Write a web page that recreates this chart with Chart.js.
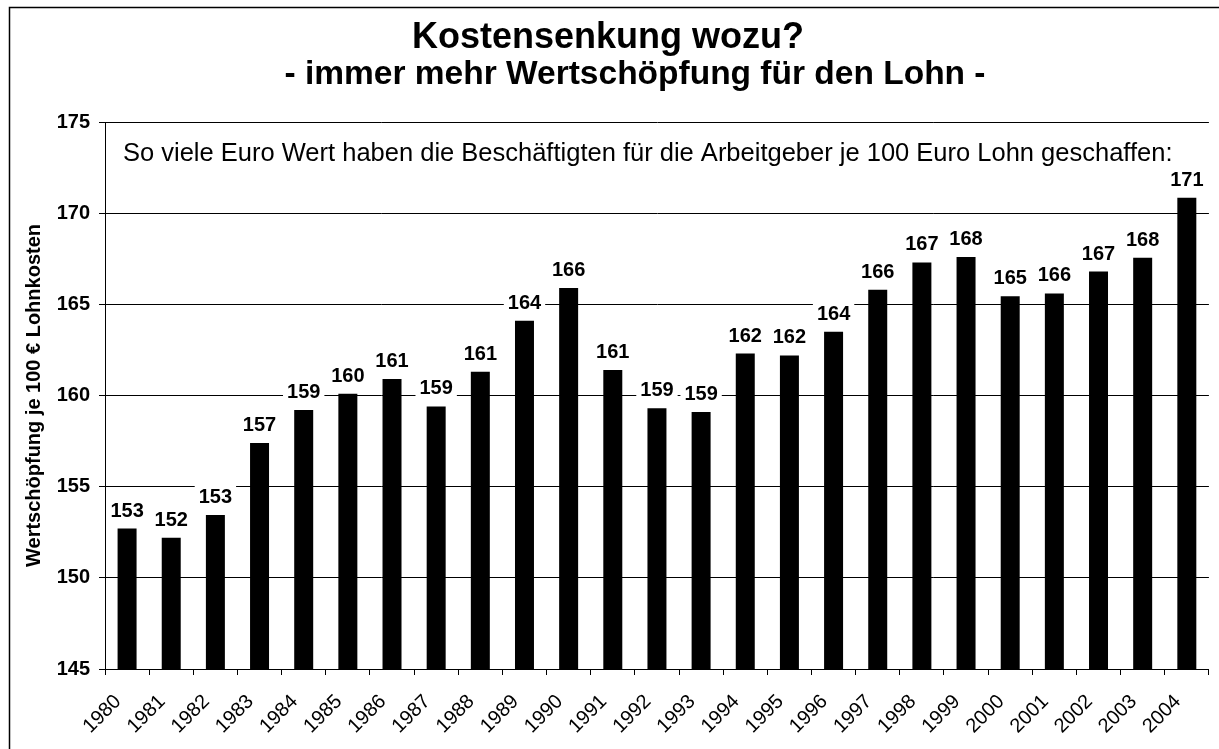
<!DOCTYPE html>
<html>
<head>
<meta charset="utf-8">
<title>Kostensenkung wozu?</title>
<script src="https://cdn.jsdelivr.net/npm/chart.js@4.4.0/dist/chart.umd.min.js"></script>
<style>
  body { margin: 0; background: #fff; }
  canvas { display: block; }
</style>
</head>
<body>
<canvas id="chart" width="1219" height="749"></canvas>
<script>
// Daten
const years = ["1980", "1981", "1982", "1983", "1984", "1985", "1986", "1987", "1988", "1989",
  "1990", "1991", "1992", "1993", "1994", "1995", "1996", "1997", "1998", "1999",
  "2000", "2001", "2002", "2003", "2004"]
const values = [152.7, 152.2, 153.45, 157.4, 159.2, 160.1, 160.9, 159.4, 161.3, 164.1,
  165.9, 161.4, 159.3, 159.1, 162.3, 162.2, 163.5, 165.8, 167.3, 167.6,
  165.45, 165.6, 166.8, 167.55, 170.85]
const yTicks = [145, 150, 155, 160, 165, 170, 175]

const titleText = "Kostensenkung wozu?"
const subtitleText = "- immer mehr Wertschöpfung für den Lohn -"
const noteText = "So viele Euro Wert haben die Beschäftigten für die Arbeitgeber je 100 Euro Lohn geschaffen:"
const yTitle = "Wertschöpfung je 100 € Lohnkosten"

const FONT = 'Arial, "Liberation Sans", Helvetica, sans-serif'

// Titel, Rahmen und Hinweistext
const decorations = {
  id: "decorations",
  afterDraw(chart) {
    const ctx = chart.ctx
    const area = chart.chartArea
    ctx.save()
    ctx.strokeStyle = "#000"
    ctx.lineWidth = 1.5
    ctx.strokeRect(9.5, 7.5, 1240, 760)

    ctx.fillStyle = "#000"
    ctx.textAlign = "center"
    ctx.textBaseline = "alphabetic"
    ctx.font = "bold 36px " + FONT
    ctx.fillText(titleText, 608, 48)
    ctx.font = "bold 33.5px " + FONT
    ctx.fillText(subtitleText, 635, 84)

    ctx.textAlign = "left"
    ctx.font = "25.5px " + FONT
    ctx.fillText(noteText, area.left + 18, 161)
    ctx.restore()
  },
}

// Werte über den Balken, mit weißem Hintergrund
const barLabels = {
  id: "barLabels",
  afterDatasetsDraw(chart) {
    const ctx = chart.ctx
    const meta = chart.getDatasetMeta(0)
    ctx.save()
    ctx.font = "bold 20px " + FONT
    ctx.textAlign = "center"
    ctx.textBaseline = "alphabetic"
    meta.data.forEach((bar, i) => {
      const txt = String(Math.round(values[i]))
      const w = ctx.measureText(txt).width
      const base = bar.y - 12
      ctx.fillStyle = "#fff"
      ctx.fillRect(bar.x - w / 2 - 4, base - 18, w + 8, 22)
      ctx.fillStyle = "#000"
      ctx.fillText(txt, bar.x, base)
    })
    ctx.restore()
  },
}

const ctx = document.getElementById("chart").getContext("2d")
new Chart(ctx, {
  type: "bar",
  data: {
    labels: years,
    datasets: [
      {
        label: "Wertschöpfung",
        data: values,
        backgroundColor: "#000",
        borderWidth: 0,
        barPercentage: 0.43,
        categoryPercentage: 1,
      },
    ],
  },
  options: {
    responsive: false,
    animation: false,
    layout: {
      padding: { top: 122, left: 10, right: 10, bottom: 0 },
    },
    plugins: {
      legend: { display: false },
      tooltip: { enabled: false },
    },
    scales: {
      x: {
        afterFit: (scale) => {
          scale.height = 80
        },
        grid: {
          offset: true,
          drawOnChartArea: false,
          drawTicks: true,
          tickLength: 6,
          color: "#000",
        },
        border: { color: "#000", width: 1 },
        ticks: {
          autoSkip: false,
          maxRotation: 45,
          minRotation: 45,
          padding: 15,
          labelOffset: -9,
          color: "#000",
          font: { family: FONT, size: 20 },
        },
      },
      y: {
        min: yTicks[0],
        max: yTicks[yTicks.length - 1],
        afterBuildTicks: (scale) => {
          scale.ticks = yTicks.map((v) => ({ value: v }))
        },
        afterFit: (scale) => {
          scale.width = 95
        },
        grid: {
          color: "#000",
          lineWidth: 1,
          drawTicks: true,
          tickLength: 6,
        },
        border: { color: "#000", width: 1 },
        ticks: {
          padding: 9,
          color: "#000",
          font: { family: FONT, size: 20, weight: "bold" },
        },
        title: {
          display: true,
          text: yTitle,
          color: "#000",
          padding: { top: 12, bottom: 0 },
          font: { family: FONT, size: 20, weight: "bold" },
        },
      },
    },
  },
  plugins: [barLabels, decorations],
})
</script>
</body>
</html>
